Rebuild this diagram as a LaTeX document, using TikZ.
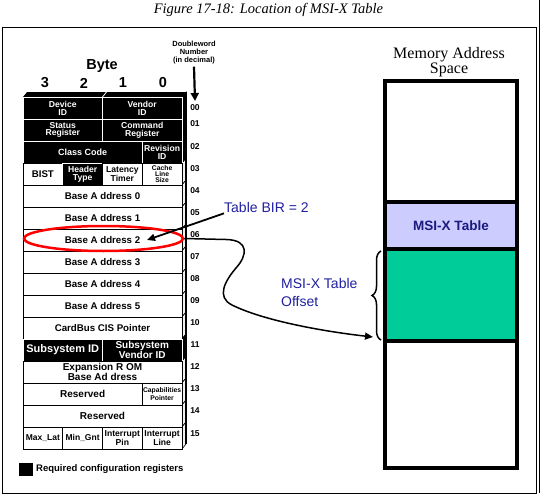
\documentclass[tikz,border=0pt]{standalone}
\usepackage{fontspec}
\setmainfont{Liberation Sans}
\newfontfamily\seriffont{Liberation Serif}
\usetikzlibrary{arrows.meta,shapes.geometric,decorations.pathreplacing}
\definecolor{navy}{HTML}{1A1A80}
\definecolor{lav}{HTML}{CCCCFF}
\definecolor{greenfill}{HTML}{00CC99}
\definecolor{labblue}{HTML}{1F1FA0}
\begin{document}
\begin{tikzpicture}[x=1pt,y=-1pt,
  cellw/.style={draw=black, line width=0.8pt, fill=white, text=black, inner sep=0pt, outer sep=0pt,
     anchor=north west, minimum height=22pt, align=center, font=\bfseries\fontsize{9.7}{8.5}\selectfont},
  cellb/.style={cellw, draw=white, fill=black, text=white},
  small/.style={font=\bfseries\fontsize{8.6}{7.8}\selectfont},
  tiny/.style={font=\bfseries\fontsize{6.8}{6.2}\selectfont},
  numlab/.style={font=\bfseries\fontsize{8.5}{8.5}\selectfont, inner sep=0pt},
  memcell/.style={draw=black, line width=3.5pt, inner sep=0pt, outer sep=0pt, anchor=north west, minimum width=132pt},
  bluelab/.style={text=labblue, font=\fontsize{14}{18}\selectfont, inner sep=0pt, align=left},
  arr/.style={-{Triangle[length=8pt,width=7pt]}}
]
\useasboundingbox (0,0) rectangle (542,498);
% frame
\draw[line width=0.8pt] (2,27) rectangle (536,493);
\draw[line width=0.6pt] (539.5,0) -- (539.5,493);
% title
\node[font=\seriffont\itshape\fontsize{14.5}{14}\selectfont] (title) at (268.5,10) {Figure 17-18: Location of MSI-X Table};
% header
\node[font=\bfseries\fontsize{14.5}{14}\selectfont] (byte) at (102,66) {Byte};
\node[font=\bfseries\fontsize{14.5}{14}\selectfont] (b3) at (45,83) {3};
\node[font=\bfseries\fontsize{14.5}{14}\selectfont] (b2) at (84,83) {2};
\node[font=\bfseries\fontsize{14.5}{14}\selectfont] (b1) at (123,83) {1};
\node[font=\bfseries\fontsize{14.5}{14}\selectfont] (b0) at (163,83) {0};
\node[font=\bfseries\fontsize{7.5}{8}\selectfont, align=center, inner sep=0pt] (dw) at (194,53) {Doubleword\\Number\\(in decimal)};
\coordinate (dwend) at (195,101);
\draw[line width=2.2pt, -{Triangle[length=8pt,width=8pt]}] ([yshift=-2pt]dw.south) -- (dwend);
% 3D top face and side
\fill[black] (23,97) -- (27,92) -- (186,92) -- (182,97) -- cycle;
\draw[white, line width=0.8pt] (102.5,97) -- (106.5,92);
\foreach \i in {3,4,5,6,7,8,9,10,12,13,14,15}{
  \filldraw[fill=gray!12, draw=black, line width=0.6pt] (182,{97+22*\i}) -- (186,{92+22*\i}) -- (186,{114+22*\i}) -- (182,{119+22*\i}) -- cycle;
}
\foreach \i in {0,1,2,11}{
  \filldraw[fill=black, draw=black, line width=0.6pt] (182,{97+22*\i}) -- (186,{92+22*\i}) -- (186,{114+22*\i}) -- (182,{119+22*\i}) -- cycle;
}
\draw[line width=1.6pt] (186,92) -- (186,444);
% row 0
\node[cellb, small, minimum width=79.5pt] (devid) at (23,97) {Device\\ID};
\node[cellb, small, minimum width=79.5pt] (venid) at (102.5,97) {Vendor\\ID};
% row 1
\node[cellb, small, minimum width=79.5pt] (status) at (23,119) {Status\\Register};
\node[cellb, small, minimum width=79.5pt] (command) at (102.5,119) {Command\\Register};
% row 2
\node[cellb, font=\bfseries\fontsize{9}{8}\selectfont, minimum width=119.25pt] (classc) at (23,141) {Class Code};
\node[cellb, small, minimum width=39.75pt] (revid) at (142.25,141) {Revision\\ID};
% row 3
\node[cellw, minimum width=39.75pt] (bist) at (23,163) {BIST};
\node[cellb, small, minimum width=39.75pt] (htype) at (62.75,163) {Header\\Type};
\node[cellw, small, minimum width=39.75pt] (lat) at (102.5,163) {Latency\\Timer};
\node[cellw, tiny, minimum width=39.75pt] (cache) at (142.25,163) {Cache\\Line\\Size};
% rows 4-9
\node[cellw, minimum width=159pt] (bar0) at (23,185) {Base A ddress 0};
\node[cellw, minimum width=159pt] (bar1) at (23,207) {Base A ddress 1};
\node[cellw, minimum width=159pt] (bar2) at (23,229) {Base A ddress 2};
\node[cellw, minimum width=159pt] (bar3) at (23,251) {Base A ddress 3};
\node[cellw, minimum width=159pt] (bar4) at (23,273) {Base A ddress 4};
\node[cellw, minimum width=159pt] (bar5) at (23,295) {Base A ddress 5};
% row 10
\node[cellw, minimum width=159pt] (cardbus) at (23,317) {CardBus CIS Pointer};
% row 11
\node[cellb, font=\bfseries\fontsize{11}{10}\selectfont, minimum width=79.5pt] (subid) at (23,339) {Subsystem ID};
\node[cellb, font=\bfseries\fontsize{10}{8.5}\selectfont, minimum width=79.5pt] (subvid) at (102.5,339) {Subsystem\\Vendor ID};
% row 12
\node[cellw, font=\bfseries\fontsize{10}{9}\selectfont, minimum width=159pt] (exprom) at (23,361) {Expansion R OM\\Base Ad dress};
% row 13
\node[cellw, font=\bfseries\fontsize{10}{9}\selectfont, minimum width=119.25pt] (res1) at (23,383) {Reserved};
\node[cellw, tiny, minimum width=39.75pt] (capp) at (142.25,383) {Capabilities\\Pointer};
% row 14
\node[cellw, font=\bfseries\fontsize{10}{9}\selectfont, minimum width=159pt] (res2) at (23,405) {Reserved};
% row 15
\node[cellw, font=\bfseries\fontsize{8.5}{8}\selectfont, minimum width=39.75pt] (maxlat) at (23,427) {Max\_Lat};
\node[cellw, font=\bfseries\fontsize{8.5}{8}\selectfont, minimum width=39.75pt] (mingnt) at (62.75,427) {Min\_Gnt};
\node[cellw, small, minimum width=39.75pt] (intpin) at (102.5,427) {Interrupt\\Pin};
\node[cellw, small, minimum width=39.75pt] (intline) at (142.25,427) {Interrupt\\Line};
% row numbers
\node[numlab] (n00) at (195,108) {00};
\node[numlab] (n01) at (195,124) {01};
\node[numlab] (n02) at (195,147) {02};
\node[numlab] (n03) at (195,169) {03};
\node[numlab] (n04) at (195,191) {04};
\node[numlab] (n05) at (195,213) {05};
\node[numlab] (n06) at (195,235) {06};
\node[numlab] (n07) at (195,257) {07};
\node[numlab] (n08) at (195,279) {08};
\node[numlab] (n09) at (195,301) {09};
\node[numlab] (n10) at (195,323) {10};
\node[numlab] (n11) at (195,345) {11};
\node[numlab] (n12) at (195,367) {12};
\node[numlab] (n13) at (195,389) {13};
\node[numlab] (n14) at (195,411) {14};
\node[numlab] (n15) at (195,434) {15};
% legend
\node[fill=black, minimum width=14pt, minimum height=13pt, anchor=north west, inner sep=0pt] (legbox) at (19,463) {};
\node[anchor=west, inner sep=0pt, font=\bfseries\fontsize{9.5}{9}\selectfont] (legtxt) at (36,469.5) {Required configuration registers};
% highlight ellipse
\node[ellipse, draw=red, line width=2.5pt, minimum width=159pt, minimum height=25pt, inner sep=0pt] (ell) at (103.5,238.5) {};
% memory space
\node[font=\seriffont\fontsize{16}{15}\selectfont, align=center, inner sep=0pt] (memlab) at (449,62) {Memory Address\\Space};
\node[memcell, fill=white, minimum height=121pt] (memtop) at (385,81) {};
\node[memcell, fill=lav, minimum height=47pt, text=navy, font=\bfseries\fontsize{13.5}{13}\selectfont] (msix) at (385,202) {MSI-X Table};
\node[memcell, fill=greenfill, minimum height=92pt] (offs) at (385,249) {};
\node[memcell, fill=white, minimum height=127pt] (membot) at (385,341) {};
% brace
\coordinate (brb) at (381,340);
\coordinate (brt) at (381,251);
\draw[decorate, decoration={brace, amplitude=9pt, aspect=0.5}, line width=1.5pt] (brb) -- (brt);
% labels
\node[bluelab, anchor=west] (bir) at (224,207) {Table BIR = 2};
\node[bluelab, anchor=west] (offlab) at (281,292) {MSI-X Table\\Offset};
% connectors
\coordinate (birtip) at (147,240);
\draw[line width=1.8pt, arr] ([yshift=-1pt]bir.south west) -- (birtip);
\coordinate (offarr) at (373,337);
\draw[line width=1.5pt, arr] (ell.east) -- (226,239.5)
   .. controls (250,240) and (247,256) .. (236,268)
   .. controls (225,281) and (216,297) .. (232,305)
   .. controls (262,320) and (320,331) .. (offarr);
\end{tikzpicture}
\end{document}
